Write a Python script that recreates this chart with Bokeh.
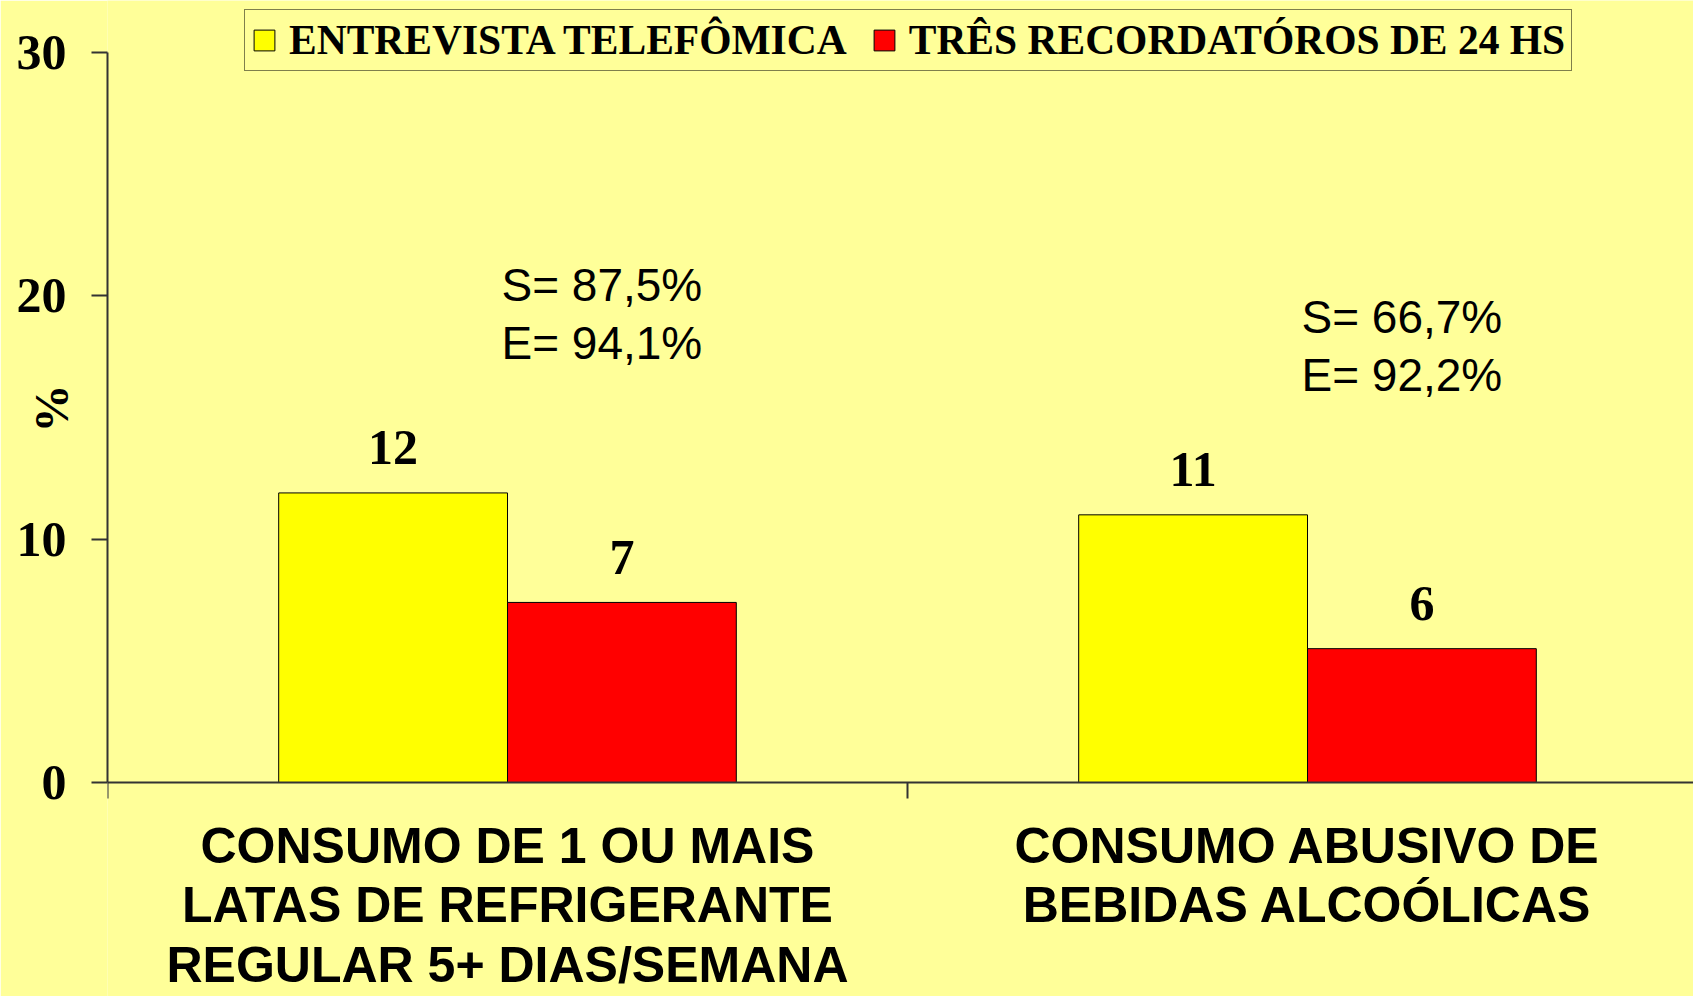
from bokeh.plotting import figure
from bokeh.models import (Range1d, FixedTicker, Legend, LegendItem, ColumnDataSource)
from bokeh.core.properties import value
from bokeh.embed import file_html
from bokeh.resources import INLINE

# ---------------- data ----------------
categories = ["CONSUMO DE 1 OU MAIS\nLATAS DE REFRIGERANTE\nREGULAR 5+ DIAS/SEMANA",
              "CONSUMO ABUSIVO DE\nBEBIDAS ALCOÓLICAS"]
series_names = ["ENTREVISTA TELEFÔMICA", "TRÊS RECORDATÓROS DE 24 HS"]
tel_values = [11.9, 11.0]          # entrevista telefônica
rec_values = [7.4, 5.5]            # três recordatórios de 24 h
tel_labels = ["12", "11"]
rec_labels = ["7", "6"]
sens = ["87,5%", "66,7%"]
spec = ["94,1%", "92,2%"]
y_ticks = [0, 10, 20, 30]
y_title = "%"

# ---------------- style / layout ----------------
BG = "#FFFF99"
AX = "#333333"
SERIF = "Liberation Serif"
SANS = "Liberation Sans"
BAR_W = 0.286
N = len(categories)
CENTERS = [i + 0.5 for i in range(N)]
BOUNDS = [float(i) for i in range(N + 1)]
NOTE_Y = [20.45, 19.15]         # anchor of the "S=" line of the notes
PX = 730 / 30                   # pixels per y unit
TICK = 16 / PX                  # tick length in data units

W, H = 1693, 996
p = figure(width=W, height=H, output_backend="svg", toolbar_location=None,
           x_axis_location=None,
           x_range=Range1d(0, 1586 / 800), y_range=Range1d(-214 / PX, 30 + 52 / PX),
           min_border_left=107, min_border_right=0, min_border_top=0, min_border_bottom=0)
p.background_fill_color = BG
p.border_fill_color = BG
p.outline_line_color = None
p.xgrid.visible = False
p.ygrid.visible = False

tel_x = [c - BAR_W / 2 for c in CENTERS]
rec_x = [c + BAR_W / 2 for c in CENTERS]
src_t = ColumnDataSource(dict(x=tel_x, top=tel_values, lab=tel_labels))
src_r = ColumnDataSource(dict(x=rec_x, top=rec_values, lab=rec_labels))
rt = p.vbar(x="x", top="top", width=BAR_W, source=src_t, fill_color="#FFFF00", line_color="black", line_width=1)
rr = p.vbar(x="x", top="top", width=BAR_W, source=src_r, fill_color="#FF0000", line_color="black", line_width=1)

# category axis (drawn at y = 0)
p.segment(x0=[0], y0=[0], x1=[BOUNDS[-1]], y1=[0], line_color=AX, line_width=2)
p.segment(x0=BOUNDS, y0=[0] * len(BOUNDS), x1=BOUNDS, y1=[-TICK] * len(BOUNDS),
          line_color=AX, line_width=2)
p.text(x=CENTERS, y=[0] * N, text=categories, text_align="center", text_baseline="top",
       y_offset=35, text_font=value(SANS), text_font_style="bold", text_font_size="50px",
       text_line_height=1.07, text_color="black")

for src in (src_t, src_r):
    p.text(x="x", y="top", text="lab", source=src, text_align="center", text_baseline="alphabetic",
           y_offset=-45, text_font=value(SERIF), text_font_style="bold", text_font_size="50px",
           text_color="black")

note_src = ColumnDataSource(dict(x=CENTERS, y=NOTE_Y,
                                 s=["S= " + s for s in sens], e=["E= " + e for e in spec]))
p.text(x="x", y="y", text="s", source=note_src, text_align="left", text_baseline="alphabetic",
       x_offset=-6, text_font=value(SANS), text_font_size="46px", text_color="black")
p.text(x="x", y="y", text="e", source=note_src, text_align="left", text_baseline="alphabetic",
       x_offset=-6, y_offset=58, text_font=value(SANS), text_font_size="46px", text_color="black")

# y axis
ya = p.yaxis[0]
ya.ticker = FixedTicker(ticks=y_ticks)
ya.bounds = (0, 30)
ya.axis_line_color = AX
ya.axis_line_width = 2
ya.major_tick_line_color = AX
ya.major_tick_line_width = 2
ya.major_tick_in = 0
ya.major_tick_out = 16
ya.minor_tick_line_color = None
ya.major_label_standoff = 25
ya.major_label_text_font = SERIF
ya.major_label_text_font_style = "bold"
ya.major_label_text_font_size = "50px"
ya.major_label_text_color = "black"
ya.axis_label = "\u00a0" * 15 + y_title      # padding lifts the title to mid-axis
ya.axis_label_standoff = -64
ya.axis_label_text_font = SERIF
ya.axis_label_text_font_style = "bold"
ya.axis_label_text_font_size = "48px"
ya.axis_label_text_color = "black"

legend = Legend(items=[LegendItem(label=series_names[0], renderers=[rt]),
                       LegendItem(label=series_names[1], renderers=[rr])],
                orientation="horizontal", location=(137, 925))
legend.glyph_width = 26
legend.glyph_height = 26
legend.label_standoff = 12
legend.spacing = 24
legend.padding = 6
legend.margin = 0
legend.label_text_font = SERIF
legend.label_text_font_style = "bold"
legend.label_text_font_size = "41.5px"
legend.label_text_color = "black"
legend.border_line_color = "black"
legend.border_line_width = 1.5
legend.background_fill_color = BG
legend.background_fill_alpha = 1
p.add_layout(legend)

open("out.html", "w").write(file_html(p, INLINE))
